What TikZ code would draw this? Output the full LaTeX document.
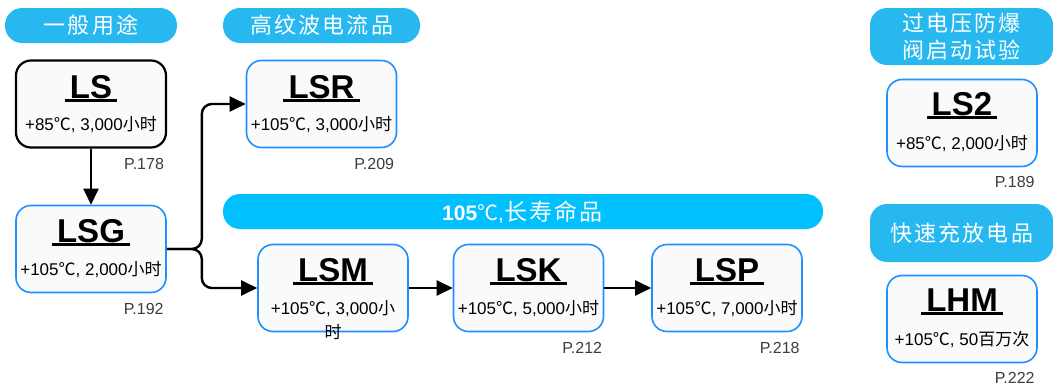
\documentclass[tikz,border=0pt]{standalone}
\usepackage{fontspec}
\setmainfont{Liberation Sans}
\newfontfamily\cjk{Noto Sans CJK SC}
\newfontfamily\cjkhd{Noto Sans CJK SC}[LetterSpace=10]
\usetikzlibrary{arrows.meta}
\definecolor{pillblue}{RGB}{40,184,240}
\definecolor{barblue}{RGB}{0,192,255}
\definecolor{edgeblue}{RGB}{30,144,255}
\definecolor{boxfill}{RGB}{250,250,250}
\definecolor{pagegray}{RGB}{60,60,60}
\newcommand{\cels}{{\cjk ℃}}

\begin{document}
\begin{tikzpicture}[x=1pt,y=-1pt,
  series/.style={draw=edgeblue,line width=1.6pt,fill=boxfill,rounded corners=15pt,minimum width=150pt,minimum height=87pt,inner sep=0pt},
  ttl/.style={font=\fontsize{33}{35}\bfseries\selectfont,inner sep=0pt,anchor=base},
  uline/.style={line width=2.5pt},
  spec/.style={font=\fontsize{17}{24}\selectfont,inner sep=0pt,anchor=base,align=center},
  page/.style={font=\fontsize{16}{18}\selectfont,text=pagegray,inner sep=0pt,anchor=base east},
  pill/.style={fill=pillblue,rounded corners=17pt,text=white,font=\fontsize{22}{27}\cjkhd\selectfont,align=center,inner sep=0pt},
  conn/.style={line width=2.4pt,-{Triangle[length=16pt,width=15pt]},rounded corners=10pt}]
\useasboundingbox (0,0) rectangle (1053,388);

\node[pill,minimum width=172pt,minimum height=35pt] (gen) at (91,25.5) {一般用途};
\node[pill,minimum width=197pt,minimum height=35pt] (hrip) at (321.5,25.5) {高纹波电流品};
\node[pill,fill=barblue,minimum width=600pt,minimum height=35pt] (life) at (523,211.5) {};
\node[anchor=west,text=white,inner sep=0pt,font=\fontsize{21}{22}\selectfont] (life-t) at (442,212) {\textbf{105}\cels,{\cjkhd\fontsize{23}{24}\selectfont 长寿命品}};
\node[pill,minimum width=183pt,minimum height=57pt] (ovp) at (961.5,36.5) {过电压防爆\\阀启动试验};
\node[pill,minimum width=183pt,minimum height=58pt] (fast) at (961.5,233) {快速充放电品};

\node[series,draw=black,line width=2.2pt] (ls) at (91,104) {};
\node[ttl] (ls-t) at ([yshift=-39pt]ls.north) {LS};
\draw[uline] ([xshift=-5pt,yshift=-2pt]ls-t.base west) -- ([xshift=5pt,yshift=-2pt]ls-t.base east);
\node[spec] (ls-s) at ([yshift=-71pt]ls.north) {+85\cels, 3,000{\cjk 小时}};
\node[page] (ls-p) at ([xshift=-3pt,yshift=-21pt]ls.south east) {P.178};

\node[series] (lsr) at (321.5,104) {};
\node[ttl] (lsr-t) at ([yshift=-39pt]lsr.north) {LSR};
\draw[uline] ([xshift=-5pt,yshift=-2pt]lsr-t.base west) -- ([xshift=5pt,yshift=-2pt]lsr-t.base east);
\node[spec] (lsr-s) at ([yshift=-71pt]lsr.north) {+105\cels, 3,000{\cjk 小时}};
\node[page] (lsr-p) at ([xshift=-3pt,yshift=-21pt]lsr.south east) {P.209};

\node[series] (lsg) at (91,249) {};
\node[ttl] (lsg-t) at ([yshift=-38pt]lsg.north) {LSG};
\draw[uline] ([xshift=-5pt,yshift=-2pt]lsg-t.base west) -- ([xshift=5pt,yshift=-2pt]lsg-t.base east);
\node[spec] (lsg-s) at ([yshift=-71pt]lsg.north) {+105\cels, 2,000{\cjk 小时}};
\node[page] (lsg-p) at ([xshift=-3pt,yshift=-21pt]lsg.south east) {P.192};

\node[series] (lsm) at (333,288) {};
\node[ttl] (lsm-t) at ([yshift=-38pt]lsm.north) {LSM};
\draw[uline] ([xshift=-5pt,yshift=-2pt]lsm-t.base west) -- ([xshift=5pt,yshift=-2pt]lsm-t.base east);
\node[spec] (lsm-s) at ([yshift=-95pt]lsm.north) {+105\cels, 3,000{\cjk 小}\\{\cjk 时}};

\node[series] (lsk) at (528.5,288) {};
\node[ttl] (lsk-t) at ([yshift=-38pt]lsk.north) {LSK};
\draw[uline] ([xshift=-5pt,yshift=-2pt]lsk-t.base west) -- ([xshift=5pt,yshift=-2pt]lsk-t.base east);
\node[spec] (lsk-s) at ([yshift=-71pt]lsk.north) {+105\cels, 5,000{\cjk 小时}};
\node[page] (lsk-p) at ([xshift=-2pt,yshift=-21pt]lsk.south east) {P.212};

\node[series] (lsp) at (727,288) {};
\node[ttl] (lsp-t) at ([yshift=-38pt]lsp.north) {LSP};
\draw[uline] ([xshift=-5pt,yshift=-2pt]lsp-t.base west) -- ([xshift=5pt,yshift=-2pt]lsp-t.base east);
\node[spec] (lsp-s) at ([yshift=-71pt]lsp.north) {+105\cels, 7,000{\cjk 小时}};
\node[page] (lsp-p) at ([xshift=-3pt,yshift=-21pt]lsp.south east) {P.218};

\node[series] (ls2) at (962,123) {};
\node[ttl] (ls2-t) at ([yshift=-37pt]ls2.north) {LS2};
\draw[uline] ([xshift=-5pt,yshift=-2pt]ls2-t.base west) -- ([xshift=5pt,yshift=-2pt]ls2-t.base east);
\node[spec] (ls2-s) at ([yshift=-71pt]ls2.north) {+85\cels, 2,000{\cjk 小时}};
\node[page] (ls2-p) at ([xshift=-3pt,yshift=-20pt]ls2.south east) {P.189};

\node[series] (lhm) at (962,319) {};
\node[ttl] (lhm-t) at ([yshift=-37pt]lhm.north) {LHM};
\draw[uline] ([xshift=-5pt,yshift=-2pt]lhm-t.base west) -- ([xshift=5pt,yshift=-2pt]lhm-t.base east);
\node[spec] (lhm-s) at ([yshift=-71pt]lhm.north) {+105\cels, 50{\cjk 百万次}};
\node[page] (lhm-p) at ([xshift=-3pt,yshift=-20pt]lhm.south east) {P.222};

\coordinate (fork) at ([xshift=35pt]lsg.east);
\draw[conn] (ls) -- (lsg);
\draw[conn] (lsg.east) -- (fork) |- (lsr.west);
\draw[conn] (lsg.east) -- (fork) |- (lsm.west);
\draw[conn] (lsm) -- (lsk);
\draw[conn] (lsk) -- (lsp);
\end{tikzpicture}
\end{document}
